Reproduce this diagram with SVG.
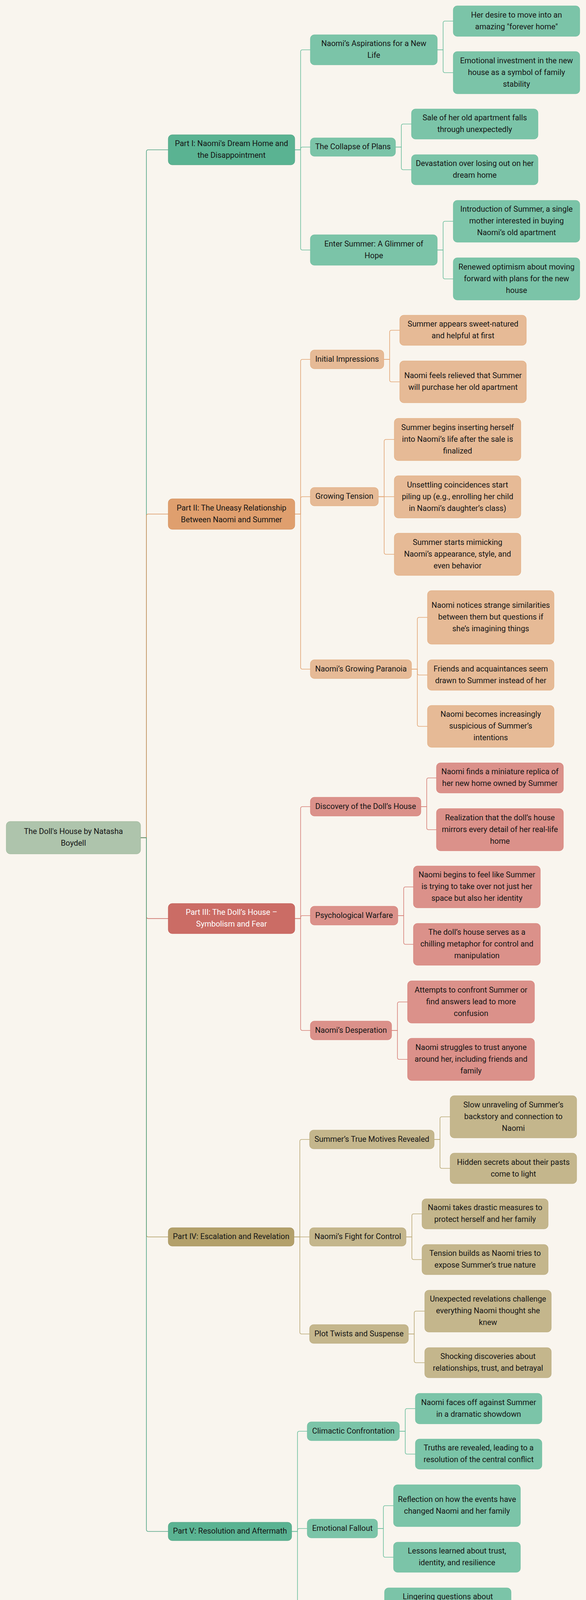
<svg xmlns="http://www.w3.org/2000/svg" width="1501" height="4305" viewBox="0 0 1501 4305">
<style>
text{font-family:Roboto,"Liberation Sans",Arial,sans-serif;font-size:20px;text-anchor:middle;fill:#151515}
rect{stroke-width:1}
.root rect{fill:#AEC4AC;stroke:#9AB597}
.c1 rect{fill:#5AB392;stroke:#4E9F80}
.c1l rect{fill:#7BC4A8;stroke:#6DBB9C}
.c2 rect{fill:#DF9F6E;stroke:#D08A55}
.c2l rect{fill:#E6BA96;stroke:#E0A878}
.c3 rect{fill:#CB6C65;stroke:#BF5750}
.c3 text{fill:#ffffff}
.c3l rect{fill:#DB918A;stroke:#D47C74}
.c4 rect{fill:#B3A06A;stroke:#A08D58}
.c4l rect{fill:#C4B68C;stroke:#B8A87A}
#edges path{fill:none;stroke-width:1.6}
.e1{stroke:#52A384}.e1l{stroke:#6DBF9E}
.e2{stroke:#DA9762}.e2l{stroke:#E2A676}
.e3{stroke:#C65F57}.e3l{stroke:#D6827A}
.e4{stroke:#AE9A60}.e4l{stroke:#BBAA78}
</style>
<rect x="0" y="0" width="1501" height="4305" fill="#F9F5EE"/>
<g id="edges">
<path class="e1" d="M360,2144.5H375V388.5Q375,383.5 380,383.5H431"/>
<path class="e2" d="M360,2144.5H375V1321Q375,1316 380,1316H431"/>
<path class="e3" d="M360,2144.5H375V2346.5Q375,2351.5 380,2351.5H431"/>
<path class="e4" d="M360,2144.5H375V3161.5Q375,3166.5 380,3166.5H431"/>
<path class="e1" d="M360,2144.5H375V3915.5Q375,3920.5 380,3920.5H431"/>

<path class="e1l" d="M755,383.5H770V132.5Q770,127.5 775,127.5H795"/>
<path class="e1l" d="M755,383.5H770V381.5Q770,376.5 775,376.5H795"/>
<path class="e1l" d="M755,383.5H770V635Q770,640 775,640H795"/>
<path class="e1l" d="M1120,127.5H1135V59Q1135,54 1140,54H1161"/>
<path class="e1l" d="M1120,127.5H1135V181Q1135,186 1140,186H1161"/>
<path class="e1l" d="M1013,376.5H1028V322.5Q1028,317.5 1033,317.5H1054"/>
<path class="e1l" d="M1013,376.5H1028V429.5Q1028,434.5 1033,434.5H1054"/>
<path class="e1l" d="M1120,640H1135V571.5Q1135,566.5 1140,566.5H1161"/>
<path class="e1l" d="M1120,640H1135V709Q1135,714 1140,714H1161"/>

<path class="e2l" d="M755,1316H770V925Q770,920 775,920H795"/>
<path class="e2l" d="M755,1316H770V1276.5Q770,1271.5 775,1271.5H795"/>
<path class="e2l" d="M755,1316H770V1708Q770,1713 775,1713H795"/>
<path class="e2l" d="M983,920H998V850.5Q998,845.5 1003,845.5H1024"/>
<path class="e2l" d="M983,920H998V972.5Q998,977.5 1003,977.5H1024"/>
<path class="e2l" d="M969,1271.5H984V1130Q984,1125 989,1125H1010"/>
<path class="e2l" d="M969,1271.5H1010"/>
<path class="e2l" d="M969,1271.5H984V1414Q984,1419 989,1419H1010"/>
<path class="e2l" d="M1054,1713H1069V1585.5Q1069,1580.5 1074,1580.5H1095"/>
<path class="e2l" d="M1054,1713H1069V1723Q1069,1728 1074,1728H1095"/>
<path class="e2l" d="M1054,1713H1069V1854.5Q1069,1859.5 1074,1859.5H1095"/>

<path class="e3l" d="M755,2351.5H770V2070Q770,2065 775,2065H795"/>
<path class="e3l" d="M755,2351.5H770V2349Q770,2344 775,2344H795"/>
<path class="e3l" d="M755,2351.5H770V2633Q770,2638 775,2638H795"/>
<path class="e3l" d="M1078,2065H1093V1996.5Q1093,1991.5 1098,1991.5H1118"/>
<path class="e3l" d="M1078,2065H1093V2119Q1093,2124 1098,2124H1118"/>
<path class="e3l" d="M1019,2344H1034V2275.5Q1034,2270.5 1039,2270.5H1059"/>
<path class="e3l" d="M1019,2344H1034V2412.5Q1034,2417.5 1039,2417.5H1059"/>
<path class="e3l" d="M1003,2638H1018V2570Q1018,2565 1023,2565H1044"/>
<path class="e3l" d="M1003,2638H1018V2707Q1018,2712 1023,2712H1044"/>

<path class="e4l" d="M753,3166.5H768V2922Q768,2917 773,2917H793"/>
<path class="e4l" d="M753,3166.5H793"/>
<path class="e4l" d="M753,3166.5H768V3410Q768,3415 773,3415H793"/>
<path class="e4l" d="M1112,2917H1127V2864Q1127,2859 1132,2859H1153"/>
<path class="e4l" d="M1112,2917H1127V2986Q1127,2991 1132,2991H1153"/>
<path class="e4l" d="M1040,3166.5H1055V3112.5Q1055,3107.5 1060,3107.5H1081"/>
<path class="e4l" d="M1040,3166.5H1055V3219.5Q1055,3224.5 1060,3224.5H1081"/>
<path class="e4l" d="M1046,3415H1061V3361.5Q1061,3356.5 1066,3356.5H1088"/>
<path class="e4l" d="M1046,3415H1061V3483.5Q1061,3488.5 1066,3488.5H1088"/>

<path class="e1l" d="M747,3920.5H762V3669Q762,3664 767,3664H787"/>
<path class="e1l" d="M747,3920.5H762V3918Q762,3913 767,3913H787"/>
<path class="e1l" d="M747,3920.5H762V4172Q762,4177 767,4177H787"/>
<path class="e1l" d="M1023,3664H1038V3611Q1038,3606 1043,3606H1064"/>
<path class="e1l" d="M1023,3664H1038V3717.5Q1038,3722.5 1043,3722.5H1064"/>
<path class="e1l" d="M967,3913H982V3859.5Q982,3854.5 987,3854.5H1008"/>
<path class="e1l" d="M967,3913H982V3981.5Q982,3986.5 987,3986.5H1008"/>
<path class="e1l" d="M944,4177H959V4123.5Q959,4118.5 964,4118.5H985"/>
<path class="e1l" d="M944,4177H959V4245.5Q959,4250.5 964,4250.5H985"/>
</g>

<g id="root" class="root"><rect x="16" y="2103" width="344" height="83" rx="10"/><text><tspan x="188" y="2135">The Doll's House by Natasha</tspan><tspan x="188" y="2165">Boydell</tspan></text></g>

<g id="part1" class="c1"><rect x="431" y="345" width="324" height="77" rx="10"/><text><tspan x="593" y="374">Part I: Naomi's Dream Home and</tspan><tspan x="593" y="404">the Disappointment</tspan></text></g>
<g id="p1a" class="c1l"><rect x="795" y="89" width="325" height="77" rx="10"/><text><tspan x="957.5" y="118">Naomi’s Aspirations for a New</tspan><tspan x="957.5" y="148">Life</tspan></text></g>
<g id="p1a1" class="c1l"><rect x="1161" y="15" width="324" height="78" rx="10"/><text><tspan x="1323" y="44.5">Her desire to move into an</tspan><tspan x="1323" y="74.5">amazing "forever home"</tspan></text></g>
<g id="p1a2" class="c1l"><rect x="1161" y="132" width="324" height="108" rx="10"/><text><tspan x="1323" y="161.5">Emotional investment in the new</tspan><tspan x="1323" y="191.5">house as a symbol of family</tspan><tspan x="1323" y="221.5">stability</tspan></text></g>
<g id="p1b" class="c1l"><rect x="795" y="353" width="218" height="47" rx="10"/><text><tspan x="904" y="382">The Collapse of Plans</tspan></text></g>
<g id="p1b1" class="c1l"><rect x="1054" y="279" width="324" height="77" rx="10"/><text><tspan x="1216" y="308">Sale of her old apartment falls</tspan><tspan x="1216" y="338">through unexpectedly</tspan></text></g>
<g id="p1b2" class="c1l"><rect x="1054" y="396" width="324" height="77" rx="10"/><text><tspan x="1216" y="425">Devastation over losing out on her</tspan><tspan x="1216" y="455">dream home</tspan></text></g>
<g id="p1c" class="c1l"><rect x="795" y="601" width="325" height="78" rx="10"/><text><tspan x="957.5" y="630.5">Enter Summer: A Glimmer of</tspan><tspan x="957.5" y="660.5">Hope</tspan></text></g>
<g id="p1c1" class="c1l"><rect x="1161" y="513" width="324" height="107" rx="10"/><text><tspan x="1323" y="542">Introduction of Summer, a single</tspan><tspan x="1323" y="572">mother interested in buying</tspan><tspan x="1323" y="602">Naomi’s old apartment</tspan></text></g>
<g id="p1c2" class="c1l"><rect x="1161" y="660" width="324" height="108" rx="10"/><text><tspan x="1323" y="689.5">Renewed optimism about moving</tspan><tspan x="1323" y="719.5">forward with plans for the new</tspan><tspan x="1323" y="749.5">house</tspan></text></g>

<g id="part2" class="c2"><rect x="431" y="1277" width="324" height="78" rx="10"/><text><tspan x="593" y="1306.5">Part II: The Uneasy Relationship</tspan><tspan x="593" y="1336.5">Between Naomi and Summer</tspan></text></g>
<g id="p2a" class="c2l"><rect x="795" y="896" width="188" height="48" rx="10"/><text><tspan x="889" y="925.5">Initial Impressions</tspan></text></g>
<g id="p2a1" class="c2l"><rect x="1024" y="807" width="324" height="77" rx="10"/><text><tspan x="1186" y="836">Summer appears sweet-natured</tspan><tspan x="1186" y="866">and helpful at first</tspan></text></g>
<g id="p2a2" class="c2l"><rect x="1024" y="924" width="324" height="107" rx="10"/><text><tspan x="1186" y="968">Naomi feels relieved that Summer</tspan><tspan x="1186" y="998">will purchase her old apartment</tspan></text></g>
<g id="p2b" class="c2l"><rect x="795" y="1248" width="174" height="47" rx="10"/><text><tspan x="882" y="1277">Growing Tension</tspan></text></g>
<g id="p2b1" class="c2l"><rect x="1010" y="1071" width="324" height="108" rx="10"/><text><tspan x="1172" y="1100.5">Summer begins inserting herself</tspan><tspan x="1172" y="1130.5">into Naomi’s life after the sale is</tspan><tspan x="1172" y="1160.5">finalized</tspan></text></g>
<g id="p2b2" class="c2l"><rect x="1010" y="1218" width="324" height="108" rx="10"/><text><tspan x="1172" y="1247.5">Unsettling coincidences start</tspan><tspan x="1172" y="1277.5">piling up (e.g., enrolling her child</tspan><tspan x="1172" y="1307.5">in Naomi’s daughter’s class)</tspan></text></g>
<g id="p2b3" class="c2l"><rect x="1010" y="1365" width="324" height="108" rx="10"/><text><tspan x="1172" y="1394.5">Summer starts mimicking</tspan><tspan x="1172" y="1424.5">Naomi’s appearance, style, and</tspan><tspan x="1172" y="1454.5">even behavior</tspan></text></g>
<g id="p2c" class="c2l"><rect x="795" y="1689" width="259" height="48" rx="10"/><text><tspan x="924.5" y="1718.5">Naomi’s Growing Paranoia</tspan></text></g>
<g id="p2c1" class="c2l"><rect x="1095" y="1512" width="324" height="137" rx="10"/><text><tspan x="1257" y="1556">Naomi notices strange similarities</tspan><tspan x="1257" y="1586">between them but questions if</tspan><tspan x="1257" y="1616">she’s imagining things</tspan></text></g>
<g id="p2c2" class="c2l"><rect x="1095" y="1689" width="324" height="78" rx="10"/><text><tspan x="1257" y="1718.5">Friends and acquaintances seem</tspan><tspan x="1257" y="1748.5">drawn to Summer instead of her</tspan></text></g>
<g id="p2c3" class="c2l"><rect x="1095" y="1806" width="324" height="107" rx="10"/><text><tspan x="1257" y="1835">Naomi becomes increasingly</tspan><tspan x="1257" y="1865">suspicious of Summer’s</tspan><tspan x="1257" y="1895">intentions</tspan></text></g>

<g id="part3" class="c3"><rect x="431" y="2313" width="324" height="77" rx="10"/><text><tspan x="593" y="2342">Part III: The Doll’s House –</tspan><tspan x="593" y="2372">Symbolism and Fear</tspan></text></g>
<g id="p3a" class="c3l"><rect x="795" y="2041" width="283" height="48" rx="10"/><text><tspan x="936.5" y="2070.5">Discovery of the Doll’s House</tspan></text></g>
<g id="p3a1" class="c3l"><rect x="1118" y="1953" width="325" height="77" rx="10"/><text><tspan x="1280.5" y="1982">Naomi finds a miniature replica of</tspan><tspan x="1280.5" y="2012">her new home owned by Summer</tspan></text></g>
<g id="p3a2" class="c3l"><rect x="1118" y="2070" width="325" height="108" rx="10"/><text><tspan x="1280.5" y="2099.5">Realization that the doll’s house</tspan><tspan x="1280.5" y="2129.5">mirrors every detail of her real-life</tspan><tspan x="1280.5" y="2159.5">home</tspan></text></g>
<g id="p3b" class="c3l"><rect x="795" y="2320" width="224" height="48" rx="10"/><text><tspan x="907" y="2349.5">Psychological Warfare</tspan></text></g>
<g id="p3b1" class="c3l"><rect x="1059" y="2217" width="325" height="107" rx="10"/><text><tspan x="1221.5" y="2246">Naomi begins to feel like Summer</tspan><tspan x="1221.5" y="2276">is trying to take over not just her</tspan><tspan x="1221.5" y="2306">space but also her identity</tspan></text></g>
<g id="p3b2" class="c3l"><rect x="1059" y="2364" width="325" height="107" rx="10"/><text><tspan x="1221.5" y="2393">The doll’s house serves as a</tspan><tspan x="1221.5" y="2423">chilling metaphor for control and</tspan><tspan x="1221.5" y="2453">manipulation</tspan></text></g>
<g id="p3c" class="c3l"><rect x="795" y="2614" width="208" height="48" rx="10"/><text><tspan x="899" y="2643.5">Naomi’s Desperation</tspan></text></g>
<g id="p3c1" class="c3l"><rect x="1044" y="2511" width="325" height="108" rx="10"/><text><tspan x="1206.5" y="2540.5">Attempts to confront Summer or</tspan><tspan x="1206.5" y="2570.5">find answers lead to more</tspan><tspan x="1206.5" y="2600.5">confusion</tspan></text></g>
<g id="p3c2" class="c3l"><rect x="1044" y="2658" width="325" height="108" rx="10"/><text><tspan x="1206.5" y="2687.5">Naomi struggles to trust anyone</tspan><tspan x="1206.5" y="2717.5">around her, including friends and</tspan><tspan x="1206.5" y="2747.5">family</tspan></text></g>

<g id="part4" class="c4"><rect x="431" y="3143" width="322" height="47" rx="10"/><text><tspan x="592" y="3172">Part IV: Escalation and Revelation</tspan></text></g>
<g id="p4a" class="c4l"><rect x="793" y="2893" width="319" height="48" rx="10"/><text><tspan x="952.5" y="2922.5">Summer’s True Motives Revealed</tspan></text></g>
<g id="p4a1" class="c4l"><rect x="1153" y="2805" width="324" height="108" rx="10"/><text><tspan x="1315" y="2834.5">Slow unraveling of Summer’s</tspan><tspan x="1315" y="2864.5">backstory and connection to</tspan><tspan x="1315" y="2894.5">Naomi</tspan></text></g>
<g id="p4a2" class="c4l"><rect x="1153" y="2952" width="324" height="78" rx="10"/><text><tspan x="1315" y="2981.5">Hidden secrets about their pasts</tspan><tspan x="1315" y="3011.5">come to light</tspan></text></g>
<g id="p4b" class="c4l"><rect x="793" y="3143" width="247" height="47" rx="10"/><text><tspan x="916.5" y="3172">Naomi’s Fight for Control</tspan></text></g>
<g id="p4b1" class="c4l"><rect x="1081" y="3069" width="323" height="77" rx="10"/><text><tspan x="1242.5" y="3098">Naomi takes drastic measures to</tspan><tspan x="1242.5" y="3128">protect herself and her family</tspan></text></g>
<g id="p4b2" class="c4l"><rect x="1081" y="3186" width="323" height="77" rx="10"/><text><tspan x="1242.5" y="3215">Tension builds as Naomi tries to</tspan><tspan x="1242.5" y="3245">expose Summer’s true nature</tspan></text></g>
<g id="p4c" class="c4l"><rect x="793" y="3391" width="253" height="48" rx="10"/><text><tspan x="919.5" y="3420.5">Plot Twists and Suspense</tspan></text></g>
<g id="p4c1" class="c4l"><rect x="1088" y="3303" width="324" height="107" rx="10"/><text><tspan x="1250" y="3332">Unexpected revelations challenge</tspan><tspan x="1250" y="3362">everything Naomi thought she</tspan><tspan x="1250" y="3392">knew</tspan></text></g>
<g id="p4c2" class="c4l"><rect x="1088" y="3450" width="324" height="77" rx="10"/><text><tspan x="1250" y="3479">Shocking discoveries about</tspan><tspan x="1250" y="3509">relationships, trust, and betrayal</tspan></text></g>

<g id="part5" class="c1"><rect x="431" y="3897" width="316" height="47" rx="10"/><text><tspan x="589" y="3926">Part V: Resolution and Aftermath</tspan></text></g>
<g id="p5a" class="c1l"><rect x="787" y="3640" width="236" height="48" rx="10"/><text><tspan x="905" y="3669.5">Climactic Confrontation</tspan></text></g>
<g id="p5a1" class="c1l"><rect x="1064" y="3567" width="324" height="78" rx="10"/><text><tspan x="1226" y="3596.5">Naomi faces off against Summer</tspan><tspan x="1226" y="3626.5">in a dramatic showdown</tspan></text></g>
<g id="p5a2" class="c1l"><rect x="1064" y="3684" width="324" height="77" rx="10"/><text><tspan x="1226" y="3713">Truths are revealed, leading to a</tspan><tspan x="1226" y="3743">resolution of the central conflict</tspan></text></g>
<g id="p5b" class="c1l"><rect x="787" y="3889" width="180" height="48" rx="10"/><text><tspan x="877" y="3918.5">Emotional Fallout</tspan></text></g>
<g id="p5b1" class="c1l"><rect x="1008" y="3801" width="325" height="107" rx="10"/><text><tspan x="1170.5" y="3845">Reflection on how the events have</tspan><tspan x="1170.5" y="3875">changed Naomi and her family</tspan></text></g>
<g id="p5b2" class="c1l"><rect x="1008" y="3948" width="325" height="77" rx="10"/><text><tspan x="1170.5" y="3977">Lessons learned about trust,</tspan><tspan x="1170.5" y="4007">identity, and resilience</tspan></text></g>
<g id="p5c" class="c1l"><rect x="787" y="4153" width="157" height="48" rx="10"/><text><tspan x="865.5" y="4182.5">Final Thoughts</tspan></text></g>
<g id="p5c1" class="c1l"><rect x="985" y="4065" width="324" height="107" rx="10"/><text><tspan x="1147" y="4094">Lingering questions about</tspan><tspan x="1147" y="4124">whether Naomi can ever truly feel</tspan><tspan x="1147" y="4154">safe again</tspan></text></g>
<g id="p5c2" class="c1l"><rect x="985" y="4212" width="324" height="77" rx="10"/><text><tspan x="1147" y="4241">Open-ended hints at potential</tspan><tspan x="1147" y="4271">future developments</tspan></text></g>
</svg>
